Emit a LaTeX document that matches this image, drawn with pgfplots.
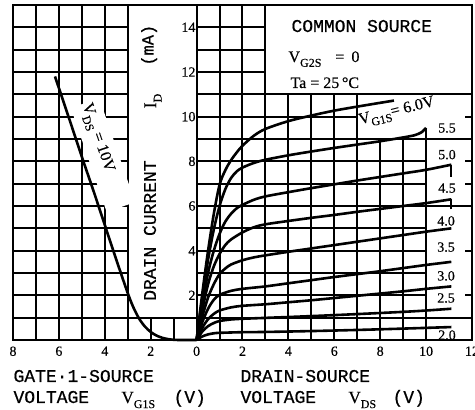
\documentclass[border=0pt]{standalone}
\usepackage{pgfplots}
\pgfplotsset{compat=1.18}
\usepackage{fontspec}
\setmainfont{Liberation Serif}
\newfontfamily\mono[FakeBold=0.6]{Liberation Mono}
\newfontfamily\ser[FakeBold=0.4]{Liberation Serif}
\newcommand\sub[1]{\raisebox{-0.3em}{\fontsize{12}{12}\selectfont #1}}
\begin{document}
\begin{tikzpicture}[gridl/.style={black, line width=2pt}]
\begin{axis}[
  at={(0pt,0pt)}, anchor=south west,
  scale only axis, width=459pt, height=335pt,
  xmin=-8, xmax=12, ymin=0, ymax=15,
  clip=false, axis on top,
  xtick={-8,-6,...,12},
  xticklabels={8,6,4,2,0,2,4,6,8,10,12},
  ytick={2,4,...,14},
  yticklabels={2,4,6,8,10,12,14},
  major tick length=0pt,
  axis line style={black, line width=2.4pt},
  xticklabel style={font=\ser\fontsize{14}{14}\selectfont, yshift=-3pt},
  yticklabel style={font=\ser\fontsize{14}{14}\selectfont, xshift=186pt},
  curve/.style={black, line width=2.6pt, smooth, tension=0.5, mark=none},
]
% ---- grid (drawn by hand, with the gaps of the original) ----
\pgfplotsinvokeforeach{-7,-6,-5,-4,-3,0,1,2,3}{\draw[gridl] (axis cs:#1,0) -- (axis cs:#1,15);}
\pgfplotsinvokeforeach{-2,-1}{\draw[gridl] (axis cs:#1,0) -- (axis cs:#1,1);}
\pgfplotsinvokeforeach{4,5,6,7}{\draw[gridl] (axis cs:#1,0) -- (axis cs:#1,11);}
\pgfplotsinvokeforeach{8,9}{\draw[gridl] (axis cs:#1,0) -- (axis cs:#1,9);}
\draw[gridl] (axis cs:10,0) -- (axis cs:10,9.5);
\draw[gridl] (axis cs:-8,1) -- (axis cs:12,1);
\pgfplotsinvokeforeach{2,3,4,5,6,7,8,9,10,11,12,13,14}{\draw[gridl] (axis cs:-8,#1) -- (axis cs:-3,#1);}
\pgfplotsinvokeforeach{2,3,4,5,7,8}{\draw[gridl] (axis cs:0,#1) -- (axis cs:10,#1);}
\draw[gridl] (axis cs:0,6) -- (axis cs:12,6);
\draw[gridl] (axis cs:0,9) -- (axis cs:12,9);
\draw[gridl] (axis cs:0,10) -- (axis cs:7,10);
\draw[gridl] (axis cs:0,11) -- (axis cs:12,11);
\pgfplotsinvokeforeach{12,13,14}{\draw[gridl] (axis cs:0,#1) -- (axis cs:3,#1);}
\pgfplotsinvokeforeach{2,4,7,8,10}{\draw[gridl] (axis cs:11.7,#1) -- (axis cs:12,#1);}
\draw[gridl] (axis cs:11.1,7.3) -- (axis cs:11.1,7.85);
\draw[gridl] (axis cs:11.1,5.85) -- (axis cs:11.1,6.3);
% white ground behind the V_DS label
\node[fill=white, rotate=-71, minimum width=110pt, minimum height=30pt, inner sep=0pt] at (axis cs:-4.08,8.28) {};

% transfer characteristic, V_DS = 10 V (x = -V_G1S)
\addplot[curve] coordinates {(-6.17,11.8) (-5.5,9.75) (-5,8.2) (-4.5,6.7) (-4,5.15) (-3.5,3.6) (-3.0,2.1) (-2.75,1.45) (-2.5,0.95) (-2.25,0.6) (-2.0,0.36) (-1.75,0.2) (-1.5,0.1) (-1.25,0.04) (-1.0,0.01) (-0.8,0) (0,0)};

% output characteristics (V_G1S = 6.0 ... 2.0 V)
\addplot[curve] coordinates {(0,0) (0.25,2.1) (0.5,4.0) (0.75,5.65) (1.0,6.95) (1.25,7.6) (1.5,8.05) (1.75,8.4) (2.0,8.7) (2.5,9.15) (3,9.45) (4,9.8) (5,10.05) (6,10.27) (7,10.45) (8,10.62) (8.6,10.72)};
\addplot[curve] coordinates {(0,0) (0.25,1.9) (0.5,3.6) (0.75,4.95) (1.0,6.0) (1.25,6.75) (1.5,7.25) (1.75,7.55) (2.0,7.72) (2.5,7.93) (3,8.07) (4,8.27) (5,8.44) (6,8.6) (7,8.75) (8,8.9) (9,9.07) (9.5,9.17) (9.8,9.3) (10,9.5)};
\addplot[curve] coordinates {(0,0) (0.25,1.6) (0.5,3.0) (0.75,4.0) (1.0,4.75) (1.25,5.3) (1.5,5.65) (1.75,5.9) (2.0,6.05) (2.5,6.28) (3,6.43) (4,6.62) (5,6.8) (6,6.97) (7,7.14) (8,7.3) (9,7.46) (10,7.62) (11.1,7.85)};
\addplot[curve] coordinates {(0,0) (0.25,1.35) (0.5,2.5) (0.75,3.3) (1.0,3.85) (1.25,4.25) (1.5,4.5) (2.0,4.82) (2.5,5.05) (3,5.18) (4,5.33) (5,5.47) (6,5.6) (7,5.74) (8,5.87) (9,6.0) (10,6.13) (11.1,6.3)};
\addplot[curve] coordinates {(0,0) (0.25,1.05) (0.5,1.9) (0.75,2.5) (1.0,2.95) (1.25,3.2) (1.5,3.38) (2.0,3.57) (2.5,3.7) (3,3.79) (4,3.95) (5,4.1) (6,4.25) (7,4.4) (8,4.55) (9,4.7) (10,4.85) (11.1,5.0)};
\addplot[curve] coordinates {(0,0) (0.25,0.8) (0.5,1.4) (0.75,1.8) (1.0,2.02) (1.5,2.2) (2,2.29) (3,2.4) (4,2.54) (5,2.68) (6,2.82) (7,2.95) (8,3.08) (9,3.22) (10,3.36) (11.1,3.5)};
\addplot[curve] coordinates {(0,0) (0.25,0.55) (0.5,0.93) (0.75,1.17) (1.0,1.32) (1.5,1.46) (2,1.53) (3,1.6) (4,1.69) (5,1.78) (6,1.88) (7,1.98) (8,2.08) (9,2.18) (10,2.29) (11.1,2.4)};
\addplot[curve] coordinates {(0,0) (0.25,0.38) (0.5,0.62) (0.75,0.76) (1,0.85) (1.5,0.92) (2,0.95) (3,0.99) (5,1.07) (7,1.16) (9,1.26) (10,1.32) (11.1,1.4)};
\addplot[curve] coordinates {(0,0) (0.25,0.16) (0.5,0.25) (0.75,0.3) (1,0.32) (2,0.35) (3,0.36) (5,0.4) (7,0.45) (9,0.51) (11.1,0.58)};

% curve labels
\begin{scope}[font=\ser\fontsize{14}{14}\selectfont]
\node at (axis cs:10.91,9.49) {5.5};
\node at (axis cs:10.91,8.3) {5.0};
\node at (axis cs:10.91,6.8) {4.5};
\node at (axis cs:10.87,5.33) {4.0};
\node at (axis cs:10.87,4.16) {3.5};
\node at (axis cs:10.87,2.87) {3.0};
\node at (axis cs:10.87,1.88) {2.5};
\node at (axis cs:10.91,0.22) {2.0};
\end{scope}
\node[font=\ser\fontsize{16}{16}\selectfont, rotate=14] at (axis cs:8.73,10.2) {V\sub{G1S}= 6.0V};
\node[font=\ser\fontsize{16}{16}\selectfont, rotate=-71] at (axis cs:-4.34,9.05) {V\sub{DS} = 10V};

% y label
\node[rotate=90, font=\mono\fontsize{18}{18}\selectfont] at (axis cs:-2.03,4.9) {DRAIN CURRENT};
\node[rotate=90, font=\ser\fontsize{18}{18}\selectfont] at (axis cs:-1.9,10.7) {I\sub{D}};
\node[rotate=90, font=\mono\fontsize{17}{17}\selectfont] at (axis cs:-2.07,13.2) {(mA)};
\end{axis}

% conditions box text
\node[anchor=base west, font=\mono\fontsize{18}{18}\selectfont] at (275pt,308pt) {COMMON SOURCE};
\node[anchor=base west, font=\ser\fontsize{16}{16}\selectfont] at (272pt,278pt) {V\sub{G2S}\hspace{14pt}=\hspace{7pt}0};
\node[anchor=base west, font=\ser\fontsize{16}{16}\selectfont] at (274pt,252pt) {Ta = 25\,°C};

% axis titles
\node[anchor=base west, font=\mono\fontsize{18}{18}\selectfont] at (-3pt,-42pt) {GATE·1-SOURCE};
\node[anchor=base west, font=\mono\fontsize{18}{18}\selectfont] at (-3pt,-63pt) {VOLTAGE};
\node[anchor=base west, font=\ser\fontsize{17}{17}\selectfont] at (105pt,-63pt) {V\sub{G1S}};
\node[anchor=base west, font=\mono\fontsize{18}{18}\selectfont] at (157pt,-63pt) {(V)};
\node[anchor=base west, font=\mono\fontsize{18}{18}\selectfont] at (224pt,-42pt) {DRAIN-SOURCE};
\node[anchor=base west, font=\mono\fontsize{18}{18}\selectfont] at (224pt,-63pt) {VOLTAGE};
\node[anchor=base west, font=\ser\fontsize{17}{17}\selectfont] at (332pt,-63pt) {V\sub{DS}};
\node[anchor=base west, font=\mono\fontsize{18}{18}\selectfont] at (376pt,-63pt) {(V)};

\pgfresetboundingbox
\path[use as bounding box] (-13pt,-70pt) rectangle (462pt,340pt);
\end{tikzpicture}
\end{document}
